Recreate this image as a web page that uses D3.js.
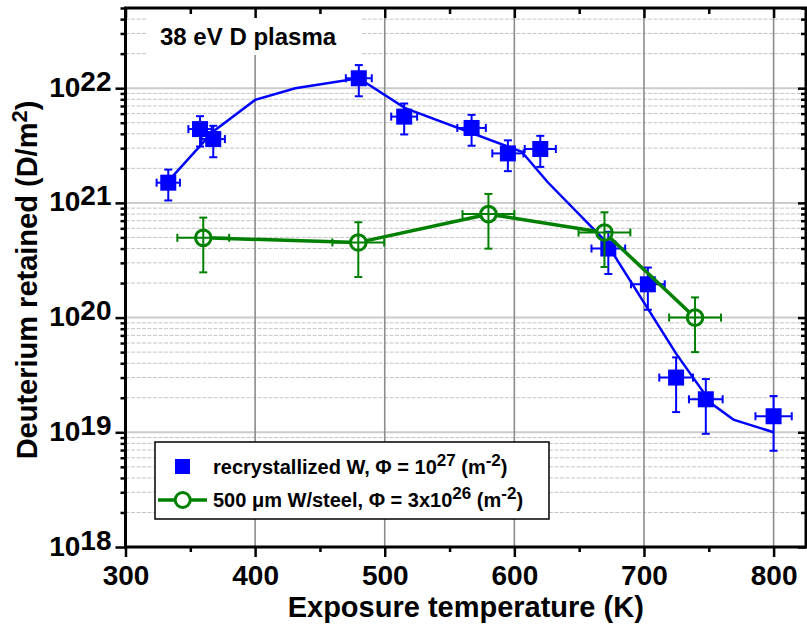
<!DOCTYPE html>
<html><head><meta charset="utf-8">
<script src="https://cdn.jsdelivr.net/npm/d3@7"></script>
<style>body{margin:0;background:#fff} text{font-family:Arial,"Liberation Sans",sans-serif}</style>
</head><body><svg id="c" width="807" height="640"></svg>
<script>
// ---- data ----
const recrystT    = [333, 357.5, 367.7, 480, 515, 567, 595, 620, 672.5, 703, 724.8, 747.7, 800];
const recrystD    = [1.5e21, 4.4e21, 3.6e21, 1.22e22, 5.65e21, 4.5e21, 2.7e21, 2.95e21, 4.0e20, 1.95e20, 3.0e19, 1.94e19, 1.38e19];
const recrystTErr = [9, 9, 9, 10, 10, 11, 12, 12, 13, 13, 13, 13, 14];
const recrystDErr = [4.5e20, 1.3e21, 1.1e21, 3.7e21, 1.7e21, 1.35e21, 8.1e20, 8.9e20, 1.6e20, 7.8e19, 1.5e19, 9.7e18, 6.9e18];

const fitT = [333, 367.7, 400, 431, 480, 515.7, 605.7, 625.6, 670, 724.8, 752.3, 769, 800];
const fitD = [1.55e21, 4.2e21, 7.9e21, 1.0e22, 1.22e22, 6.7e21, 2.79e21, 1.52e21, 4.67e20, 4.85e19, 1.77e19, 1.29e19, 1.0e19];

const steelT    = [360, 479.6, 580, 669.5, 739.4];
const steelD    = [4.96e20, 4.52e20, 7.98e20, 5.52e20, 1.0e20];
const steelTErr = [20, 20, 20, 20, 20];
const steelDErr = [2.48e20, 2.26e20, 3.99e20, 2.76e20, 5.0e19];

const xMajorTicks = [300, 400, 500, 600, 700, 800];
const xMinorTicks = [350, 450, 550, 650, 750];
const yMajorTicks = [1e18, 1e19, 1e20, 1e21, 1e22];

const titleText = "38 eV D plasma";
const xLabel = "Exposure temperature (K)";
const yLabel = "Deuterium retained (D/m";

// ---- layout ----
const svg = d3.select("#c");
const L = 125.5, R = 806, T = 8, B = 547;
const x = d3.scaleLinear().domain([300, 825]).range([L, R]);
const y = d3.scaleLog().domain([1e18, 5e22]).range([B, T]);
const blue = "#0000ff", green = "#008000";

const yMinorTicks = [];
for (let e = 18; e <= 22; e++) for (let m = 2; m <= 9; m++) { const v = m * Math.pow(10, e); if (v <= 5e22) yMinorTicks.push(v); }

// grid
const grid = svg.append("g");
grid.selectAll(".ymin").data(yMinorTicks).join("line")
  .attr("x1", L).attr("x2", R).attr("y1", d => y(d)).attr("y2", d => y(d))
  .attr("stroke", "#c4c4c4").attr("stroke-width", 1).attr("stroke-dasharray", "4,1.5");
grid.selectAll(".ymaj").data(yMajorTicks.slice(1)).join("line")
  .attr("x1", L).attr("x2", R).attr("y1", d => y(d)).attr("y2", d => y(d))
  .attr("stroke", "#cccccc").attr("stroke-width", 2);
grid.selectAll(".xmaj").data(xMajorTicks.slice(1)).join("line")
  .attr("x1", d => x(d)).attr("x2", d => x(d)).attr("y1", T).attr("y2", B)
  .attr("stroke", "#8c8c8c").attr("stroke-width", 1.6);

// title box (covers grid)
svg.append("rect").attr("x", 147).attr("y", T + 1).attr("width", 215).attr("height", 46).attr("fill", "#fff");
svg.append("text").attr("x", 160).attr("y", 45).attr("font-size", 24).attr("font-weight", "bold").attr("fill", "#000").text(titleText);

// fit line
svg.append("path").datum(fitT.map((t, i) => [t, fitD[i]]))
  .attr("d", d3.line().x(d => x(d[0])).y(d => y(d[1])))
  .attr("fill", "none").attr("stroke", blue).attr("stroke-width", 2.5);

// error bars helper
function errBars(g, T_, D_, TE, DE, color, sw) {
  const cap = 4;
  T_.forEach((t, i) => {
    const cx = x(t), cy = y(D_[i]);
    const y1 = y(D_[i] + DE[i]), y2 = y(D_[i] - DE[i]);
    const x1 = x(t - TE[i]), x2 = x(t + TE[i]);
    const gg = g.append("g").attr("stroke", color).attr("stroke-width", sw);
    gg.append("line").attr("x1", cx).attr("x2", cx).attr("y1", y1).attr("y2", y2);
    gg.append("line").attr("x1", cx - cap).attr("x2", cx + cap).attr("y1", y1).attr("y2", y1);
    gg.append("line").attr("x1", cx - cap).attr("x2", cx + cap).attr("y1", y2).attr("y2", y2);
    gg.append("line").attr("x1", x1).attr("x2", x2).attr("y1", cy).attr("y2", cy);
    gg.append("line").attr("x1", x1).attr("x2", x1).attr("y1", cy - cap).attr("y2", cy + cap);
    gg.append("line").attr("x1", x2).attr("x2", x2).attr("y1", cy - cap).attr("y2", cy + cap);
  });
}

// blue series
const gb = svg.append("g");
errBars(gb, recrystT, recrystD, recrystTErr, recrystDErr, blue, 2);
gb.selectAll("rect").data(recrystT).join("rect")
  .attr("x", (d) => x(d) - 8).attr("y", (d, i) => y(recrystD[i]) - 8)
  .attr("width", 16).attr("height", 16).attr("fill", blue);

// green series
const gg = svg.append("g");
errBars(gg, steelT, steelD, steelTErr, steelDErr, green, 2);
const rC = 8.5;
for (let i = 0; i < steelT.length - 1; i++) {
  const ax = x(steelT[i]), ay = y(steelD[i]), bx = x(steelT[i + 1]), by = y(steelD[i + 1]);
  const len = Math.hypot(bx - ax, by - ay), ux = (bx - ax) / len, uy = (by - ay) / len;
  gg.append("line").attr("x1", ax + ux * rC).attr("y1", ay + uy * rC)
    .attr("x2", bx - ux * rC).attr("y2", by - uy * rC)
    .attr("stroke", green).attr("stroke-width", 3.5);
}
gg.selectAll("circle").data(steelT).join("circle")
  .attr("cx", d => x(d)).attr("cy", (d, i) => y(steelD[i])).attr("r", 7.8)
  .attr("fill", "none").attr("stroke", green).attr("stroke-width", 3);

// axes
const fs = 28;
const bottom = svg.append("g").attr("transform", `translate(0,${B})`)
  .call(d3.axisBottom(x).tickValues(xMajorTicks).tickSize(10).tickPadding(8).tickFormat(d3.format("d")));
svg.append("g").attr("transform", `translate(0,${B})`)
  .call(d3.axisBottom(x).tickValues(xMinorTicks).tickSize(5).tickFormat(""));
svg.append("g").attr("transform", `translate(0,${T})`)
  .call(d3.axisTop(x).tickValues(xMajorTicks).tickSize(-10).tickFormat(""));
svg.append("g").attr("transform", `translate(0,${T})`)
  .call(d3.axisTop(x).tickValues(xMinorTicks).tickSize(-6).tickFormat(""));
const left = svg.append("g").attr("transform", `translate(${L},0)`)
  .call(d3.axisLeft(y).tickValues(yMajorTicks).tickSize(10).tickPadding(4).tickFormat(""));
svg.append("g").attr("transform", `translate(${L},0)`)
  .call(d3.axisLeft(y).tickValues(yMinorTicks).tickSize(5).tickFormat(""));
svg.append("g").attr("transform", `translate(${R},0)`)
  .call(d3.axisRight(y).tickValues(yMajorTicks).tickSize(-8).tickFormat(""));
svg.append("g").attr("transform", `translate(${R},0)`)
  .call(d3.axisRight(y).tickValues(yMinorTicks).tickSize(-5).tickFormat(""));

svg.selectAll(".domain").remove();
svg.selectAll(".tick line").attr("stroke", "#000").attr("stroke-width", 2.5);
bottom.selectAll(".tick text").attr("font-size", fs).attr("font-weight", "bold").attr("fill", "#000")
  .attr("font-family", "Arial, 'Liberation Sans', sans-serif");

left.selectAll(".tick text").each(function (d) {
  const t = d3.select(this);
  t.text("").attr("dy", null).attr("y", 8).attr("x", -14)
    .attr("font-size", fs).attr("font-weight", "bold").attr("fill", "#000")
    .attr("font-family", "Arial, 'Liberation Sans', sans-serif");
  t.append("tspan").text("10");
  t.append("tspan").attr("dy", -6).text(String(Math.round(Math.log10(d))));
});

// frame
svg.append("rect").attr("x", L).attr("y", T).attr("width", R - L).attr("height", B - T)
  .attr("fill", "none").attr("stroke", "#000").attr("stroke-width", 3);

// axis labels
svg.append("text").attr("x", (L + R) / 2 - 0).attr("y", 617).attr("text-anchor", "middle")
  .attr("font-size", 29).attr("font-weight", "bold").text(xLabel);
const yl = svg.append("text").attr("transform", "translate(37,280) rotate(-90)").attr("text-anchor", "middle")
  .attr("font-size", 29).attr("font-weight", "bold");
yl.append("tspan").text(yLabel);
yl.append("tspan").attr("dy", -10).attr("font-size", 22).text("2");
yl.append("tspan").attr("dy", 10).text(")");

// legend
const lg = svg.append("g");
lg.append("rect").attr("x", 155).attr("y", 442).attr("width", 394).attr("height", 77)
  .attr("fill", "#fff").attr("stroke", "#000").attr("stroke-width", 1.5);
lg.append("rect").attr("x", 175).attr("y", 459).attr("width", 15).attr("height", 15).attr("fill", blue);
lg.append("line").attr("x1", 158).attr("x2", 207).attr("y1", 500).attr("y2", 500).attr("stroke", green).attr("stroke-width", 3.5);
lg.append("circle").attr("cx", 182.7).attr("cy", 500).attr("r", 7.5).attr("fill", "#fff").attr("stroke", green).attr("stroke-width", 3);
const lfs = 20;
const t1 = lg.append("text").attr("x", 213).attr("y", 474).attr("font-size", lfs).attr("font-weight", "bold");
t1.append("tspan").text("recrystallized W, Φ = 10");
t1.append("tspan").attr("dy", -8).attr("font-size", 17).text("27");
t1.append("tspan").attr("dy", 8).text(" (m");
t1.append("tspan").attr("dy", -8).attr("font-size", 17).text("-2");
t1.append("tspan").attr("dy", 8).text(")");
const t2 = lg.append("text").attr("x", 213).attr("y", 507).attr("font-size", lfs).attr("font-weight", "bold");
t2.append("tspan").text("500 μm W/steel, Φ = 3x10");
t2.append("tspan").attr("dy", -8).attr("font-size", 17).text("26");
t2.append("tspan").attr("dy", 8).text(" (m");
t2.append("tspan").attr("dy", -8).attr("font-size", 17).text("-2");
t2.append("tspan").attr("dy", 8).text(")");
</script></body></html>
